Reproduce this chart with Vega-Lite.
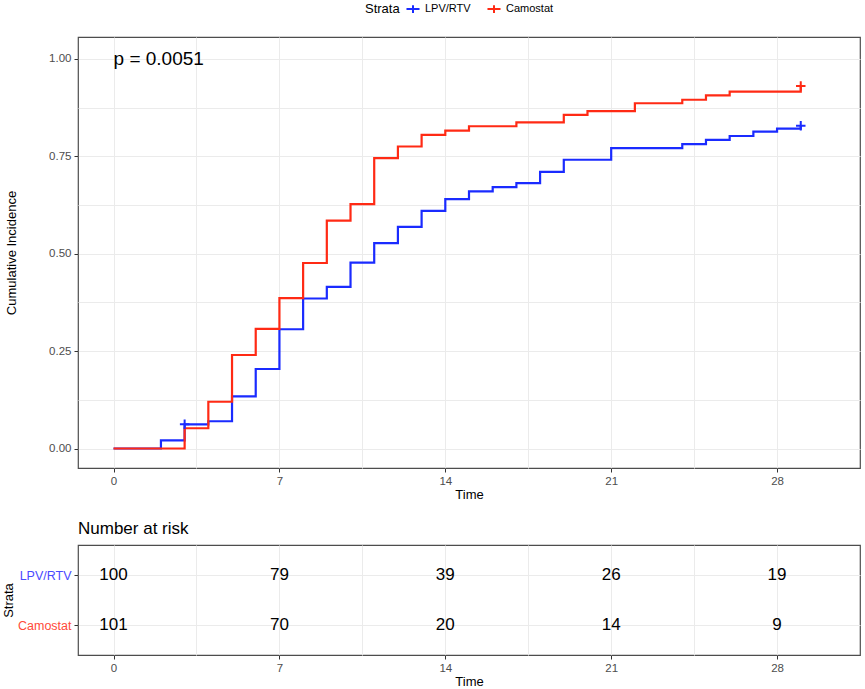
{
  "$schema": "https://vega.github.io/schema/vega-lite/v6.json",
  "padding": {"left": 1, "top": 1, "right": 4, "bottom": 4},
  "config": {
    "font": "Liberation Sans",
    "view": {"stroke": "#4D4D4D", "strokeWidth": 1.2},
    "axis": {
      "domain": false,
      "labelColor": "#4D4D4D",
      "labelFontSize": 11.5,
      "tickColor": "#333333",
      "tickSize": 4,
      "titleFontSize": 13,
      "titleFontWeight": "normal",
      "titleColor": "#000000",
      "gridColor": "#EBEBEB"
    },
    "legend": {"labelFontSize": 11, "titleFontSize": 13, "titleFontWeight": "normal", "titleColor": "#000000", "labelColor": "#000000"},
    "title": {"fontWeight": "normal", "color": "#000000"}
  },
  "datasets": {
    "curves": [
      {"strata": "LPV/RTV", "time": 0, "cuminc": 0},
      {"strata": "LPV/RTV", "time": 2, "cuminc": 0.021},
      {"strata": "LPV/RTV", "time": 3, "cuminc": 0.062},
      {"strata": "LPV/RTV", "time": 4, "cuminc": 0.07},
      {"strata": "LPV/RTV", "time": 5, "cuminc": 0.134},
      {"strata": "LPV/RTV", "time": 6, "cuminc": 0.204},
      {"strata": "LPV/RTV", "time": 7, "cuminc": 0.306},
      {"strata": "LPV/RTV", "time": 8, "cuminc": 0.385},
      {"strata": "LPV/RTV", "time": 9, "cuminc": 0.415},
      {"strata": "LPV/RTV", "time": 10, "cuminc": 0.477},
      {"strata": "LPV/RTV", "time": 11, "cuminc": 0.527},
      {"strata": "LPV/RTV", "time": 12, "cuminc": 0.569},
      {"strata": "LPV/RTV", "time": 13, "cuminc": 0.61},
      {"strata": "LPV/RTV", "time": 14, "cuminc": 0.64},
      {"strata": "LPV/RTV", "time": 15, "cuminc": 0.66},
      {"strata": "LPV/RTV", "time": 16, "cuminc": 0.671},
      {"strata": "LPV/RTV", "time": 17, "cuminc": 0.681},
      {"strata": "LPV/RTV", "time": 18, "cuminc": 0.71},
      {"strata": "LPV/RTV", "time": 19, "cuminc": 0.741},
      {"strata": "LPV/RTV", "time": 21, "cuminc": 0.771},
      {"strata": "LPV/RTV", "time": 24, "cuminc": 0.781},
      {"strata": "LPV/RTV", "time": 25, "cuminc": 0.792},
      {"strata": "LPV/RTV", "time": 26, "cuminc": 0.802},
      {"strata": "LPV/RTV", "time": 27, "cuminc": 0.813},
      {"strata": "LPV/RTV", "time": 28, "cuminc": 0.821},
      {"strata": "LPV/RTV", "time": 29, "cuminc": 0.828},
      {"strata": "Camostat", "time": 0, "cuminc": 0},
      {"strata": "Camostat", "time": 3, "cuminc": 0.052},
      {"strata": "Camostat", "time": 4, "cuminc": 0.12},
      {"strata": "Camostat", "time": 5, "cuminc": 0.24},
      {"strata": "Camostat", "time": 6, "cuminc": 0.307},
      {"strata": "Camostat", "time": 7, "cuminc": 0.386},
      {"strata": "Camostat", "time": 8, "cuminc": 0.476},
      {"strata": "Camostat", "time": 9, "cuminc": 0.585},
      {"strata": "Camostat", "time": 10, "cuminc": 0.627},
      {"strata": "Camostat", "time": 11, "cuminc": 0.745},
      {"strata": "Camostat", "time": 12, "cuminc": 0.775},
      {"strata": "Camostat", "time": 13, "cuminc": 0.805},
      {"strata": "Camostat", "time": 14, "cuminc": 0.816},
      {"strata": "Camostat", "time": 15, "cuminc": 0.827},
      {"strata": "Camostat", "time": 17, "cuminc": 0.837},
      {"strata": "Camostat", "time": 19, "cuminc": 0.856},
      {"strata": "Camostat", "time": 20, "cuminc": 0.866},
      {"strata": "Camostat", "time": 22, "cuminc": 0.886},
      {"strata": "Camostat", "time": 24, "cuminc": 0.895},
      {"strata": "Camostat", "time": 25, "cuminc": 0.906},
      {"strata": "Camostat", "time": 26, "cuminc": 0.916},
      {"strata": "Camostat", "time": 29, "cuminc": 0.93}
    ],
    "censors": [
      {"strata": "LPV/RTV", "time": 3, "cuminc": 0.062},
      {"strata": "LPV/RTV", "time": 29, "cuminc": 0.828},
      {"strata": "Camostat", "time": 29, "cuminc": 0.93}
    ],
    "risk": [
      {"strata": "LPV/RTV", "time": 0, "n": 100},
      {"strata": "LPV/RTV", "time": 7, "n": 79},
      {"strata": "LPV/RTV", "time": 14, "n": 39},
      {"strata": "LPV/RTV", "time": 21, "n": 26},
      {"strata": "LPV/RTV", "time": 28, "n": 19},
      {"strata": "Camostat", "time": 0, "n": 101},
      {"strata": "Camostat", "time": 7, "n": 70},
      {"strata": "Camostat", "time": 14, "n": 20},
      {"strata": "Camostat", "time": 21, "n": 14},
      {"strata": "Camostat", "time": 28, "n": 9}
    ],
    "pval": [{"time": 0, "cuminc": 1, "label": "p = 0.0051"}]
  },
  "spacing": 16,
  "vconcat": [
    {
      "width": 782,
      "height": 431,
      "encoding": {
        "x": {
          "field": "time", "type": "quantitative", "title": "Time",
          "scale": {"domain": [-1.5, 31.5], "nice": false, "zero": false},
          "axis": {
            "values": [0, 3.5, 7, 10.5, 14, 17.5, 21, 24.5, 28],
            "labelExpr": "datum.value % 7 === 0 ? datum.label : ''",
            "tickOpacity": {"condition": {"test": "datum.value % 7 === 0", "value": 1}, "value": 0},
            "titlePadding": 2, "labelPadding": 3
          }
        },
        "y": {
          "field": "cuminc", "type": "quantitative", "title": "Cumulative Incidence",
          "scale": {"domain": [-0.05, 1.056], "nice": false, "zero": false},
          "axis": {
            "values": [0, 0.125, 0.25, 0.375, 0.5, 0.625, 0.75, 0.875, 1],
            "format": ".2f",
            "labelExpr": "datum.value * 4 % 1 === 0 ? datum.label : ''",
            "tickOpacity": {"condition": {"test": "datum.value * 4 % 1 === 0", "value": 1}, "value": 0},
            "titlePadding": 30, "labelPadding": 3
          }
        }
      },
      "layer": [
        {
          "data": {"name": "curves"},
          "mark": {"type": "line", "interpolate": "step-after", "strokeWidth": 2.2},
          "encoding": {
            "color": {
              "field": "strata", "type": "nominal",
              "scale": {"domain": ["LPV/RTV", "Camostat"], "range": ["#1A2BFF", "#FF2A14"]},
              "legend": {
                "title": "Strata", "orient": "none", "direction": "horizontal", "titleOrient": "left",
                "legendX": 287, "legendY": -36,
                "symbolType": "M-1,0H1M0,-0.6V0.6", "symbolStrokeWidth": 2, "symbolSize": 170,
                "columnPadding": 12
              }
            }
          }
        },
        {
          "data": {"name": "censors"},
          "mark": {"type": "point", "shape": "M-1,0H1M0,-1V1", "filled": false, "strokeWidth": 2, "size": 90, "opacity": 1},
          "encoding": {"color": {"field": "strata", "type": "nominal"}}
        },
        {
          "data": {"name": "pval"},
          "mark": {"type": "text", "align": "left", "baseline": "middle", "fontSize": 19, "color": "#000000"},
          "encoding": {"text": {"field": "label"}}
        }
      ]
    },
    {
      "width": 782,
      "height": 110,
      "title": {"text": "Number at risk", "anchor": "start", "frame": "group", "fontSize": 17, "offset": 7},
      "data": {"name": "risk"},
      "mark": {"type": "text", "fontSize": 17, "color": "#000000", "baseline": "middle"},
      "encoding": {
        "x": {
          "field": "time", "type": "quantitative", "title": "Time",
          "scale": {"domain": [-1.5, 31.5], "nice": false, "zero": false},
          "axis": {
            "values": [0, 3.5, 7, 10.5, 14, 17.5, 21, 24.5, 28],
            "labelExpr": "datum.value % 7 === 0 ? datum.label : ''",
            "tickOpacity": {"condition": {"test": "datum.value % 7 === 0", "value": 1}, "value": 0},
            "titlePadding": 2, "labelPadding": 3
          }
        },
        "y": {
          "field": "strata", "type": "nominal", "title": "Strata",
          "sort": ["LPV/RTV", "Camostat"],
          "scale": {"type": "point", "padding": 0.6},
          "axis": {
            "grid": true,
            "labelFontSize": 12.5,
            "labelColor": {"condition": {"test": "datum.value === 'LPV/RTV'", "value": "#4A4AFF"}, "value": "#FF4A3A"},
            "titlePadding": 2, "labelPadding": 3
          }
        },
        "text": {"field": "n", "type": "quantitative"}
      }
    }
  ],
  "resolve": {"scale": {"x": "independent", "y": "independent"}}
}
